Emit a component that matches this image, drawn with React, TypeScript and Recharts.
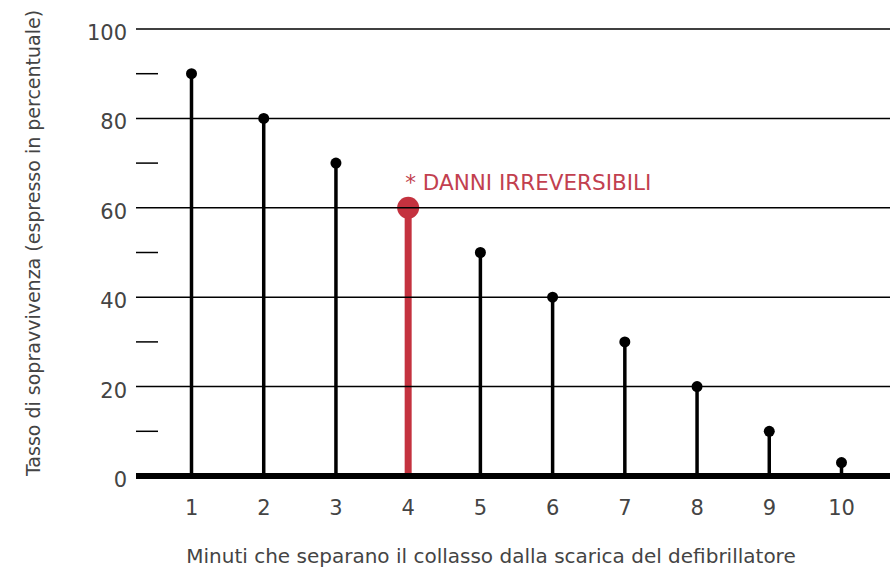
import React from 'react';
import { ComposedChart, Bar, XAxis, YAxis, ReferenceLine, Label } from 'recharts';

const minutes = [1, 2, 3, 4, 5, 6, 7, 8, 9, 10];
const survival = [90, 80, 70, 60, 50, 40, 30, 20, 10, 3];
const highlightMinute = 4;
const noteText = '* DANNI IRREVERSIBILI';
const yMajorTicks = [0, 20, 40, 60, 80, 100];
const yMinorTicks = [10, 30, 50, 70, 90];
const yAllTicks = [0, 10, 20, 30, 40, 50, 60, 70, 80, 90, 100];
const xTitle = 'Minuti che separano il collasso dalla scarica del defibrillatore';
const yTitle = 'Tasso di sopravvivenza (espresso in percentuale)';

const data = minutes.map((m, i) => ({ minute: m, value: survival[i], highlight: m === highlightMinute }));

const FONT = '"DejaVu Sans", Verdana, sans-serif';
const TEXT = '#444';
const RED = '#c4323f';
const NOTE = '#c2404f';

const Stem = (props: any) => {
  const { x, y, width, height, payload } = props;
  const cx = x + width / 2;
  if (payload.highlight) {
    return (
      <g>
        <line x1={cx} y1={y} x2={cx} y2={y + height} stroke={RED} strokeWidth={7} />
        <circle cx={cx} cy={y} r={11} fill={RED} />
        <text x={cx - 3} y={y - 18} fontSize={21.5} fontFamily={FONT} fill={NOTE}>{noteText}</text>
      </g>
    );
  }
  return (
    <g>
      <line x1={cx} y1={y} x2={cx} y2={y + height} stroke="#000" strokeWidth={3.5} />
      <circle cx={cx} cy={y} r={5.5} fill="#000" />
    </g>
  );
};

const YTick = (props: any) => {
  const { x, y, payload } = props;
  if (yMinorTicks.includes(payload.value)) {
    return <line x1={x + 8} y1={y} x2={x + 30} y2={y} stroke="#000" strokeWidth={1.5} />;
  }
  return (
    <text x={x - 1} y={y + 11} textAnchor="end" fontSize={21} fontFamily={FONT} fill={TEXT}>
      {payload.value}
    </text>
  );
};

const XTick = (props: any) => {
  const { x, y, payload } = props;
  return (
    <text x={x} y={y + 31} textAnchor="middle" fontSize={21} fontFamily={FONT} fill={TEXT}>
      {payload.value}
    </text>
  );
};

const YTitle = () => {
  const cx = 33;
  const cy = 243;
  return (
    <text x={cx} y={cy} transform={`rotate(-90, ${cx}, ${cy})`} textAnchor="middle" dominantBaseline="central"
      fontSize={19} fontFamily={FONT} fill={TEXT}>
      {yTitle}
    </text>
  );
};

const XTitle = (props: any) => {
  const vb = props.viewBox;
  const cx = 491;
  const by = vb.y + 87;
  return (
    <text x={cx} y={by} textAnchor="middle" fontSize={20} fontFamily={FONT} fill={TEXT}>
      {xTitle}
    </text>
  );
};

export default function App() {
  return (
    <div style={{ position: 'absolute', left: 0, top: 0, width: 890, height: 575, background: '#fff' }}>
      <ComposedChart width={890} height={575} data={data} margin={{ top: 29, right: 0, bottom: 0, left: 0 }}>
        {yMajorTicks.filter(v => v > 0).map(v => (
          <ReferenceLine key={v} y={v} stroke="#000" strokeWidth={1.5} />
        ))}
        <XAxis
          dataKey="minute"
          type="number"
          domain={[0.23, 10.67]}
          allowDataOverflow
          ticks={minutes}
          tickLine={false}
          axisLine={{ stroke: '#000', strokeWidth: 6 }}
          tick={<XTick />}
          height={99}
        >
          <Label content={<XTitle />} />
        </XAxis>
        <YAxis
          type="number"
          domain={[0, 100]}
          ticks={yAllTicks}
          interval={0}
          tickLine={false}
          axisLine={false}
          tick={<YTick />}
          width={136}
        >
          <Label content={<YTitle />} />
        </YAxis>
        <Bar dataKey="value" barSize={8} shape={<Stem />} isAnimationActive={false} />
      </ComposedChart>
    </div>
  );
}
